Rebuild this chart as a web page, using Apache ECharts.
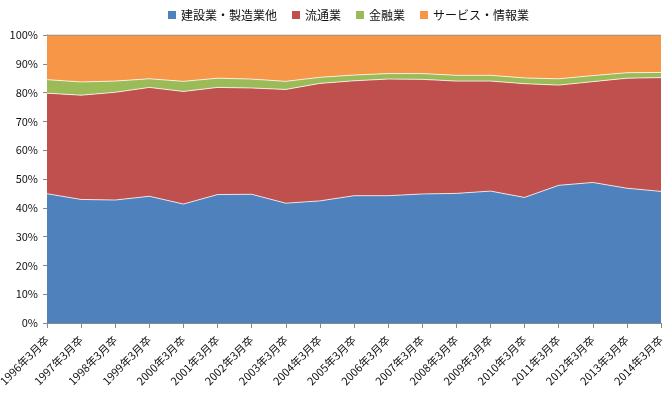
<!DOCTYPE html>
<html><head><meta charset="utf-8">
<script src="https://cdn.jsdelivr.net/npm/echarts@6/dist/echarts.min.js"></script>
<style>html,body{margin:0;padding:0;background:#fff}#c{width:666px;height:394px}</style>
</head><body><div id="c"></div>
<script>
const categories = ['1996年3月卒','1997年3月卒','1998年3月卒','1999年3月卒','2000年3月卒','2001年3月卒','2002年3月卒','2003年3月卒','2004年3月卒','2005年3月卒','2006年3月卒','2007年3月卒','2008年3月卒','2009年3月卒','2010年3月卒','2011年3月卒','2012年3月卒','2013年3月卒','2014年3月卒'];
const seriesNames = ['建設業・製造業他','流通業','金融業','サービス・情報業'];
const construction = [44.9,42.9,42.7,44.0,41.3,44.6,44.7,41.6,42.4,44.2,44.2,44.8,45.0,45.8,43.6,47.8,48.8,46.8,45.7];
const distribution = [34.9,36.2,37.4,37.8,39.1,37.2,36.9,39.5,40.8,39.9,40.5,39.8,39.0,38.2,39.5,34.8,35.0,38.2,39.5];
const finance = [4.7,4.6,3.9,3.0,3.5,3.2,3.1,2.8,2.1,2.0,1.9,2.0,2.0,2.0,2.0,2.2,2.1,1.9,1.8];
const service = [15.5,16.3,16.0,15.2,16.1,15.0,15.3,16.1,14.7,13.9,13.4,13.4,14.0,14.0,14.9,15.2,14.1,13.1,13.0];
const yTicks = [0,10,20,30,40,50,60,70,80,90,100];

const colors = ['#4F81BD','#C0504D','#9BBB59','#F79646'];
const dataList = [construction, distribution, finance, service];
const font = '"Noto Sans CJK JP", sans-serif';
const chart = echarts.init(document.getElementById('c'), null, {renderer:'canvas'});
chart.setOption({
  animation:false,
  color: colors,
  textStyle:{fontFamily:font},
  legend:{
    top:4, left:163, itemWidth:8, itemHeight:8, itemGap:15,
    icon:'rect',
    textStyle:{fontFamily:font, fontSize:12, color:'#111'},
    data: seriesNames
  },
  grid:{left:47, right:5, top:35, bottom:71, containLabel:false, outerBoundsMode:'none'},
  xAxis:{
    type:'category', boundaryGap:false, data:categories,
    axisLine:{lineStyle:{color:'#888'}},
    axisTick:{show:true, length:5, lineStyle:{color:'#888'}, alignWithLabel:true},
    axisLabel:{rotate:45, fontSize:11, color:'#111', fontFamily:font, interval:0, margin:15}
  },
  yAxis:{
    type:'value', min:0, max:100, interval:10,
    axisLine:{show:true, lineStyle:{color:'#888'}},
    axisTick:{show:true, length:4, lineStyle:{color:'#888'}},
    splitLine:{show:false},
    axisLabel:{formatter: v => yTicks.includes(v) ? v + '%' : '', fontSize:11, color:'#111', fontFamily:font, margin:9}
  },
  series: seriesNames.map((n,i)=>({
    name:n, type:'line', stack:'total', symbol:'none',
    data: dataList[i],
    areaStyle:{color:colors[i], opacity:1},
    lineStyle:{width:1, color: i===3 ? '#8a8a8a' : 'rgba(255,255,255,0.75)'},
    itemStyle:{color:colors[i]}
  }))
});
</script></body></html>
